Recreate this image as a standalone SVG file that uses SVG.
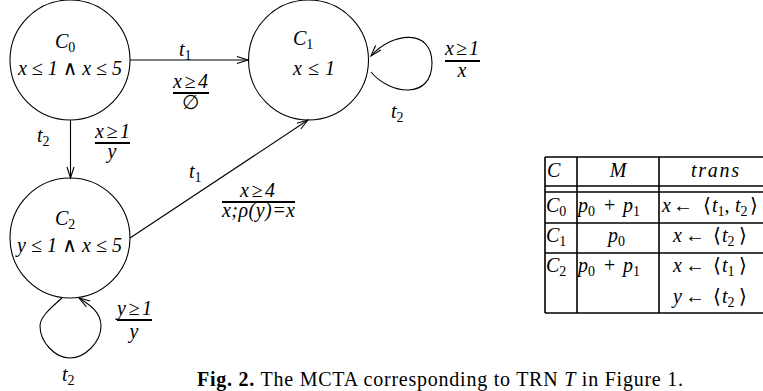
<svg xmlns="http://www.w3.org/2000/svg" width="763" height="391" viewBox="0 0 763 391">
  <style>
    .st { fill: none; stroke: #000; stroke-width: 1.1; }
    .bar { stroke: #000; stroke-width: 2; }
    .tb { stroke: #000; stroke-width: 1.6; fill: none; }
    text { font-family: "Liberation Serif", "DejaVu Serif", serif; font-size: 20px; fill: #000; }
    .i { font-style: italic; }
    .sub { font-size: 14px; font-style: normal; }
    .c { text-anchor: middle; }
    .cap { font-size: 20px; }
  </style>
  <defs>
    <marker id="arr" markerUnits="userSpaceOnUse" markerWidth="14" markerHeight="10" viewBox="-12 -5 14 10" refX="0" refY="0" orient="auto">
      <path d="M-11,-3.5 L0,0 L-11,3.5" fill="none" stroke="#000" stroke-width="1.1"/>
    </marker>
  </defs>

  <!-- connectors -->
  <g id="edges">
    <line class="st" x1="130" y1="60" x2="248" y2="60" marker-end="url(#arr)"/>
    <line class="st" x1="70.5" y1="120" x2="70.5" y2="178" marker-end="url(#arr)"/>
    <line class="st" x1="130" y1="238" x2="308" y2="120" marker-end="url(#arr)"/>
    <path class="st" d="M371,72 C390,95 432,100 432,63 C432,28 392,32 371,56" marker-end="url(#arr)"/>
    <path class="st" d="M62,298 C48,310 40,318 40,326 C40,342 55,358 70,358 C85,358 101,342 101,326 C101,312 90,305 79,298" marker-end="url(#arr)"/>

    <!-- C0 to C1 -->
    <text x="179" y="56" class="i">t<tspan class="sub" dy="4">1</tspan></text>
    <text x="173" y="88" class="i" textLength="35">x≥4</text>
    <line class="bar" x1="173" y1="93" x2="209" y2="93"/>
    <text x="190" y="109" class="c" font-size="15">∅</text>

    <!-- C0 to C2 -->
    <text x="37" y="142" class="i">t<tspan class="sub" dy="4">2</tspan></text>
    <text x="95" y="138" class="i" textLength="35">x≥1</text>
    <line class="bar" x1="95" y1="143" x2="130" y2="143"/>
    <text x="112" y="158" class="i c">y</text>

    <!-- C2 to C1 -->
    <text x="189" y="178" class="i">t<tspan class="sub" dy="4">1</tspan></text>
    <text x="240" y="197" class="i" textLength="35">x≥4</text>
    <line class="bar" x1="222" y1="202" x2="295" y2="202"/>
    <text x="222" y="217" class="i" textLength="73">x;ρ(y)=x</text>

    <!-- C1 loop -->
    <text x="445" y="55" class="i" textLength="34">x≥1</text>
    <line class="bar" x1="445" y1="61" x2="480" y2="61"/>
    <text x="462" y="77" class="i c">x</text>
    <text x="391" y="118" class="i">t<tspan class="sub" dy="4">2</tspan></text>

    <!-- C2 loop -->
    <text x="117" y="315" class="i" textLength="35">y≥1</text>
    <line class="bar" x1="117" y1="320" x2="152" y2="320"/>
    <text x="134" y="338" class="i c">y</text>
    <text x="62" y="381" class="i">t<tspan class="sub" dy="4">2</tspan></text>
  </g>

  <g id="C0">
    <circle class="st" cx="70" cy="60" r="60"/>
    <text x="55" y="48" class="i">C<tspan class="sub" dy="4">0</tspan></text>
    <text x="18" y="75" class="i" textLength="104">x ≤ 1 ∧ x ≤ 5</text>
  </g>
  <g id="C1">
    <circle class="st" cx="308.5" cy="60" r="60"/>
    <text x="293" y="45" class="i">C<tspan class="sub" dy="4">1</tspan></text>
    <text x="293" y="75" class="i" textLength="42">x ≤ 1</text>
  </g>
  <g id="C2">
    <circle class="st" cx="70" cy="238" r="60"/>
    <text x="55" y="225" class="i">C<tspan class="sub" dy="4">2</tspan></text>
    <text x="17" y="252" class="i" textLength="105">y ≤ 1 ∧ x ≤ 5</text>
  </g>

  <!-- marking table -->
  <g id="table">
    <line class="tb" x1="545" y1="157" x2="763" y2="157"/>
    <line class="tb" x1="545" y1="186" x2="763" y2="186"/>
    <line class="tb" x1="545" y1="192" x2="763" y2="192"/>
    <line class="tb" x1="545" y1="223" x2="763" y2="223"/>
    <line class="tb" x1="545" y1="253" x2="763" y2="253"/>
    <line class="tb" x1="545" y1="313" x2="763" y2="313"/>
    <line class="tb" x1="545" y1="157" x2="545" y2="313"/>
    <line class="tb" x1="577" y1="157" x2="577" y2="313"/>
    <line class="tb" x1="659" y1="157" x2="659" y2="313"/>

    <!-- header -->
    <text x="547" y="177" class="i">C</text>
    <text x="618" y="177" class="i c">M</text>
    <text x="691" y="177" class="i" textLength="48">trans</text>

    <!-- row C0 -->
    <text x="546" y="212" class="i">C<tspan class="sub" dy="4">0</tspan></text>
    <text x="578" y="212" class="i">p<tspan class="sub" dy="4">0</tspan></text>
    <text x="604" y="212">+</text>
    <text x="623" y="212" class="i">p<tspan class="sub" dy="4">1</tspan></text>
    <text x="662" y="212" class="i">x</text>
    <text x="673" y="212">←</text>
    <text x="703" y="212">⟨</text>
    <text x="712" y="212" class="i">t<tspan class="sub" dy="4">1</tspan><tspan dy="-4" font-style="normal">,</tspan></text>
    <text x="735" y="212" class="i">t<tspan class="sub" dy="4">2</tspan></text>
    <text x="750" y="212">⟩</text>

    <!-- row C1 -->
    <text x="546" y="242" class="i">C<tspan class="sub" dy="4">1</tspan></text>
    <text x="608" y="242" class="i">p<tspan class="sub" dy="4">0</tspan></text>
    <text x="673" y="242" class="i">x</text>
    <text x="685" y="242">←</text>
    <text x="713" y="242">⟨</text>
    <text x="722" y="242" class="i">t<tspan class="sub" dy="4">2</tspan></text>
    <text x="739" y="242">⟩</text>

    <!-- row C2 -->
    <text x="546" y="272" class="i">C<tspan class="sub" dy="4">2</tspan></text>
    <text x="578" y="272" class="i">p<tspan class="sub" dy="4">0</tspan></text>
    <text x="604" y="272">+</text>
    <text x="623" y="272" class="i">p<tspan class="sub" dy="4">1</tspan></text>
    <text x="673" y="272" class="i">x</text>
    <text x="685" y="272">←</text>
    <text x="713" y="272">⟨</text>
    <text x="722" y="272" class="i">t<tspan class="sub" dy="4">1</tspan></text>
    <text x="739" y="272">⟩</text>

    <text x="673" y="303" class="i">y</text>
    <text x="685" y="303">←</text>
    <text x="713" y="303">⟨</text>
    <text x="722" y="303" class="i">t<tspan class="sub" dy="4">2</tspan></text>
    <text x="739" y="303">⟩</text>
  </g>

  <text x="197" y="386" class="cap" textLength="486"><tspan font-weight="bold">Fig. 2.</tspan> The MCTA corresponding to TRN <tspan font-style="italic">T</tspan> in Figure 1.</text>
</svg>
